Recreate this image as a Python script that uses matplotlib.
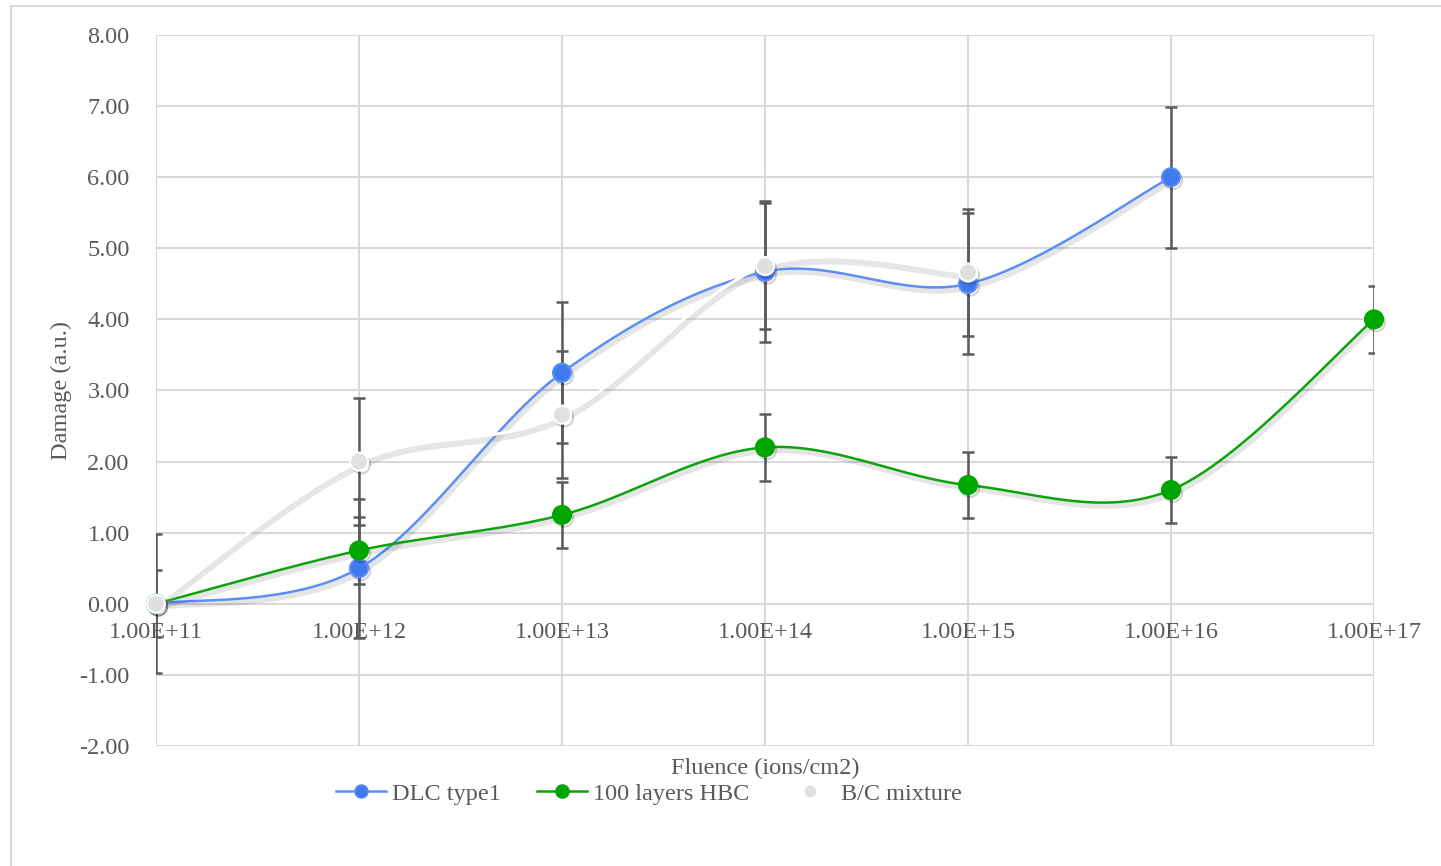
import numpy as np
import matplotlib
matplotlib.use("Agg")
import matplotlib.pyplot as plt
import matplotlib.patheffects as pe
from matplotlib.patches import Rectangle

# ---- data ----
fluence = [1e11, 1e12, 1e13, 1e14, 1e15, 1e16, 1e17]
tick_labels = ["1.00E+11", "1.00E+12", "1.00E+13", "1.00E+14", "1.00E+15", "1.00E+16", "1.00E+17"]

dlc_x = [1e11, 1e12, 1e13, 1e14, 1e15, 1e16]
dlc_y = [0.0, 0.50, 3.25, 4.67, 4.50, 6.00]
dlc_err = [0.98, 0.98, 0.99, 0.99, 0.99, 0.99]

hbc_x = [1e11, 1e12, 1e13, 1e14, 1e15, 1e16, 1e17]
hbc_y = [0.0, 0.75, 1.25, 2.20, 1.67, 1.60, 4.00]
hbc_err = [0.47, 0.47, 0.47, 0.47, 0.47, 0.47, 0.47]

bc_x = [1e11, 1e12, 1e13, 1e14, 1e15]
bc_y = [0.0, 2.00, 2.66, 4.75, 4.66]
bc_err = [0.0, 0.89, 0.89, 0.89, 0.89]

series_names = ["DLC type1", "100 layers HBC", "B/C mixture"]


def smooth(xs, ys, n=60):
    X = np.log10(np.asarray(xs, float))
    Y = np.asarray(ys, float)
    P = np.column_stack([X, Y])
    out = []
    t = np.linspace(0, 1, n)[:, None]
    for i in range(len(P) - 1):
        p0 = P[i - 1] if i > 0 else P[i]
        p1 = P[i]
        p2 = P[i + 1]
        p3 = P[i + 2] if i + 2 < len(P) else P[i + 1]
        c1 = p1 + (p2 - p0) / 6.0
        c2 = p2 - (p3 - p1) / 6.0
        seg = ((1 - t) ** 3) * p1 + 3 * ((1 - t) ** 2) * t * c1 + 3 * (1 - t) * t ** 2 * c2 + t ** 3 * p2
        out.append(seg if i == 0 else seg[1:])
    out = np.vstack(out)
    return 10 ** out[:, 0], out[:, 1]


plt.rcParams["font.family"] = ["Liberation Serif", "DejaVu Serif"]
txt = "#595959"
fs = 17.5

fig = plt.figure(figsize=(14.41, 8.66), dpi=100)
fig.patches.append(Rectangle((11 / 1441, -0.1), 1.2, 1 - 6 / 866 + 0.1, transform=fig.transFigure,
                             fill=False, edgecolor="#d9d9d9", linewidth=1.5))
ax = fig.add_axes([156 / 1441, 1 - 746 / 866, (1374 - 156) / 1441, (746 - 35) / 866])
ax.set_xscale("log")
ax.set_xlim(1e11, 1e17)
ax.set_ylim(-2, 8)
ax.set_yticks(np.arange(-2, 8.01, 1))
ax.set_yticklabels([f"{v:.2f}" for v in np.arange(-2, 8.01, 1)])
ax.set_xticks(fluence)
ax.set_xticklabels(tick_labels)
ax.xaxis.set_minor_locator(matplotlib.ticker.NullLocator())
ax.grid(True, color="#d9d9d9", linewidth=1.5)
ax.set_axisbelow(True)
for s in ["top", "right", "left"]:
    ax.spines[s].set_visible(False)
ax.spines["bottom"].set_position(("data", 0))
ax.spines["bottom"].set_color("none")
ax.tick_params(axis="both", length=0, labelsize=fs, labelcolor=txt)
ax.tick_params(axis="y", pad=19)
ax.tick_params(axis="x", pad=13)

ax.set_xlabel("Fluence (ions/cm2)", fontsize=fs, color=txt)
ax.xaxis.set_label_coords(0.5, -0.016)
ax.set_ylabel("Damage (a.u.)", fontsize=fs, color=txt)
ax.yaxis.set_label_coords(-0.069, 0.5)

eb_kw = dict(fmt="none", ecolor="#5a5a5a", elinewidth=1.8, capsize=4.5, capthick=1.8, zorder=2)
ax.errorbar(dlc_x, dlc_y, yerr=dlc_err, **eb_kw)
ax.errorbar(hbc_x, hbc_y, yerr=hbc_err, **eb_kw)
ax.errorbar([x for x, e in zip(bc_x, bc_err) if e > 0], [y for y, e in zip(bc_y, bc_err) if e > 0],
            yerr=[e for e in bc_err if e > 0], **eb_kw)

shadow = [pe.SimpleLineShadow(offset=(1.5, -2.5), shadow_color="black", alpha=0.10, linewidth=4), pe.Normal()]
mshadow = [pe.SimpleLineShadow(offset=(1.5, -2.0), shadow_color="black", alpha=0.18), pe.Normal()]

specs = [
    (dlc_x, dlc_y, "#5b8ff7", "#4079ee", "#5b8ff7"),
    (hbc_x, hbc_y, "#0ca30c", "#00a600", "#00a600"),
    (bc_x, bc_y, "#ffffff", "#e0e0e0", "#ffffff"),
]
handles = []
for i, (xs, ys, lc, mc, mec) in enumerate(specs):
    sx, sy = smooth(xs, ys)
    if i == 2:
        ln, = ax.plot(sx, sy, color=lc, lw=2.2, zorder=3 + i * 0.1,
                      path_effects=[pe.SimpleLineShadow(offset=(0.5, -2.5), shadow_color="#9a9a9a", alpha=0.24, linewidth=6), pe.Normal()])
    else:
        ln, = ax.plot(sx, sy, color=lc, lw=1.8, zorder=3 + i * 0.1, path_effects=shadow)
    mk, = ax.plot(xs, ys, linestyle="none", marker="o", markersize=13, markerfacecolor=mc,
                  markeredgecolor=mec, markeredgewidth=1.5, zorder=4 + i * 0.1, path_effects=mshadow, clip_on=False)
    h, = ax.plot([], [], color=lc, lw=1.8, marker="o", markersize=9.5, markerfacecolor=mc, markeredgecolor=mec,
                 markeredgewidth=1.0)
    handles.append(h)

leg = fig.legend(handles, series_names, loc="center", bbox_to_anchor=(649 / 1441, 1 - 794 / 866), ncol=3,
                 frameon=False, fontsize=fs, handlelength=2.05, handletextpad=0.25, columnspacing=1.5,
                 labelcolor=txt)

fig.savefig("out.png", dpi=100)
